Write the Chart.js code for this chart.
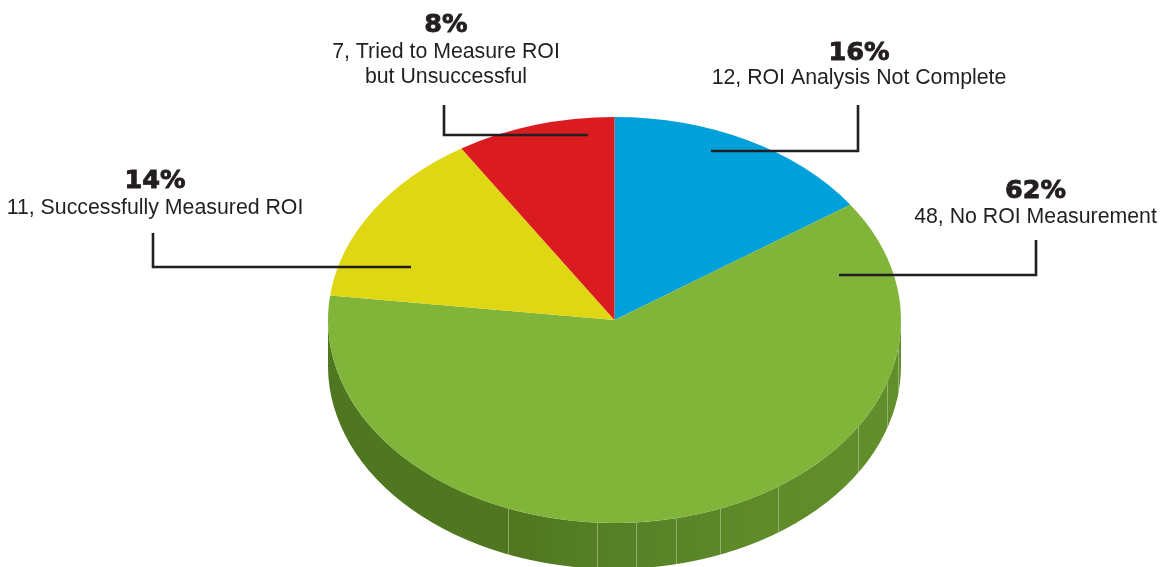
<!DOCTYPE html>
<html><head><meta charset="utf-8">
<style>html,body{margin:0;padding:0;background:#fff;overflow:hidden;width:1160px;height:567px}canvas{display:block}</style>
<script src="https://cdn.jsdelivr.net/npm/chart.js@4"></script>
</head><body>
<canvas id="c" width="1160" height="640"></canvas>
<script>
const categories = ["ROI Analysis Not Complete","No ROI Measurement","Successfully Measured ROI","Tried to Measure ROI|but Unsuccessful"];
const counts = [12,48,11,7];
const percents = ["16%","62%","14%","8%"];
const colors = ["#00a1db","#80b539","#dfd614","#da1c21"];
const labelX = [859,1035.5,155,446];
const pctBaseline = [60,198,188,32];
const textBaseline = [84,223,214,58];
const leaders = [
  [[858,105],[858,151],[711,151]],
  [[1036,240],[1036,275],[839,275]],
  [[153,233],[153,267],[411,267]],
  [[444,105],[444,135],[588,135]]
];
const SQUASH = 203/286.5, DEPTH = 46, TEXT = "#231f20";
const facets = [-0.372,-0.061,0.075,0.215,0.368,0.571,0.85,0.951,0.99];

const pie3d = {
  id:"pie3d",
  beforeDatasetsDraw(chart){
    const arc = chart.getDatasetMeta(0).data[0], ctx = chart.ctx;
    const cx=arc.x, cy=arc.y, rx=arc.outerRadius, ry=rx*SQUASH;
    ctx.save();
    const wall = new Path2D();
    wall.ellipse(cx,cy,rx,ry,0,0,Math.PI,false);
    wall.lineTo(cx-rx,cy+DEPTH);
    wall.ellipse(cx,cy+DEPTH,rx,ry,0,Math.PI,0,true);
    wall.closePath();
    const g = ctx.createLinearGradient(cx-rx,0,cx+rx,0);
    g.addColorStop(0,"#4f7620"); g.addColorStop(0.32,"#507720");
    g.addColorStop(0.5,"#568026"); g.addColorStop(0.75,"#5f8b2a"); g.addColorStop(1,"#628e2b");
    ctx.fillStyle=g; ctx.fill(wall); ctx.clip(wall);
    ctx.strokeStyle="rgba(190,210,160,0.55)"; ctx.lineWidth=1;
    facets.forEach(f=>{
      const x=Math.round(cx+f*rx)+0.5, y=cy+ry*Math.sqrt(1-f*f);
      ctx.beginPath(); ctx.moveTo(x,y); ctx.lineTo(x,y+DEPTH); ctx.stroke();
    });
    ctx.restore();
    ctx.save();
    ctx.translate(cx,cy); ctx.scale(1,SQUASH); ctx.translate(-cx,-cy);
  },
  afterDatasetsDraw(chart){
    const ctx = chart.ctx;
    ctx.restore();
    ctx.save();
    ctx.strokeStyle=TEXT; ctx.lineWidth=2.6; ctx.lineJoin="miter"; ctx.lineCap="butt";
    leaders.forEach(pts=>{
      ctx.beginPath();
      pts.forEach((p,i)=> i?ctx.lineTo(p[0],p[1]):ctx.moveTo(p[0],p[1]));
      ctx.stroke();
    });
    ctx.fillStyle=TEXT; ctx.textAlign="center"; ctx.textBaseline="alphabetic";
    categories.forEach((cat,i)=>{
      ctx.font='bold 25.5px "DejaVu Sans"';
      ctx.fillText(percents[i],labelX[i],pctBaseline[i]);
      ctx.lineWidth=0.9;
      ctx.strokeText(percents[i],labelX[i],pctBaseline[i]);
      ctx.font='21.3px "Liberation Sans"';
      cat.split("|").forEach((line,j)=>{
        const t = j===0 ? counts[i]+", "+line : line;
        ctx.fillText(t,labelX[i],textBaseline[i]+j*25);
      });
    });
    ctx.restore();
  }
};

new Chart(document.getElementById("c"),{
  type:"pie",
  data:{labels:categories.map(s=>s.replace("|"," ")),
    datasets:[{data:counts,backgroundColor:colors,borderWidth:0,hoverOffset:0}]},
  options:{
    responsive:false,animation:false,events:[],
    layout:{padding:{left:328,right:259,top:33.5,bottom:33.5}},
    plugins:{legend:{display:false},tooltip:{enabled:false}}
  },
  plugins:[pie3d]
});
</script>
</body></html>
